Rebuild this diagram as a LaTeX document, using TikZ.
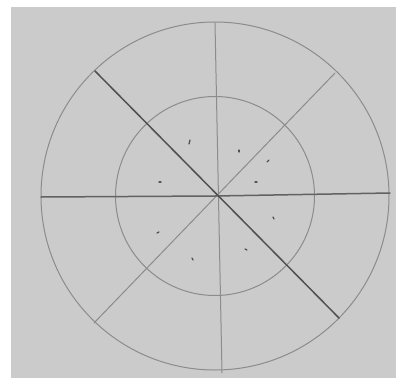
\documentclass[tikz,border=0pt]{standalone}
\usepackage{xcolor}
\definecolor{paper}{RGB}{203,203,203}
\definecolor{pencil}{RGB}{140,140,140}
\definecolor{lead}{RGB}{80,80,80}

\begin{document}
\begin{tikzpicture}[x=1pt, y=-1pt, line cap=round,
  ring/.style={draw=pencil, line width=1pt},
  spoke/.style={draw=pencil, line width=1pt},
  heavy/.style={draw=lead, line width=1.5pt},
  speck/.style={draw=lead, line width=1.3pt}]
  \useasboundingbox (0,0) rectangle (396,380);
  \fill[paper] (11,7) rectangle (396,378);
  \coordinate (c) at (215,196);
  \draw[ring] (c) circle[radius=174];
  \draw[ring] (c) circle[radius=99.5];
  % four diameters
  \coordinate (n) at (215,23);
  \coordinate (s) at (222,373);
  \coordinate (w) at (41,197);
  \coordinate (e) at (390,193);
  \coordinate (nw) at (95,71);
  \coordinate (se) at (339,318);
  \coordinate (ne) at (335,73);
  \coordinate (sw) at (94,323);
  \draw[spoke] (n) -- (s);
  \draw[spoke] (ne) -- (sw);
  \draw[heavy, draw=lead!70!pencil] (w) -- (c) -- (e);
  \draw[heavy] (nw) -- (se);
  % marks
  \foreach \x/\y/\dx/\dy in {189/144/1/-4, 159/182/2/0, 239/152/0/-2, 267/162/2/-2,
    255/182/2/0, 273/217/1/2, 157/233/2/-1, 192/258/1/2, 245/249/2/1}
    \draw[speck] (\x,\y) -- ++(\dx,\dy);
\end{tikzpicture}
\end{document}
